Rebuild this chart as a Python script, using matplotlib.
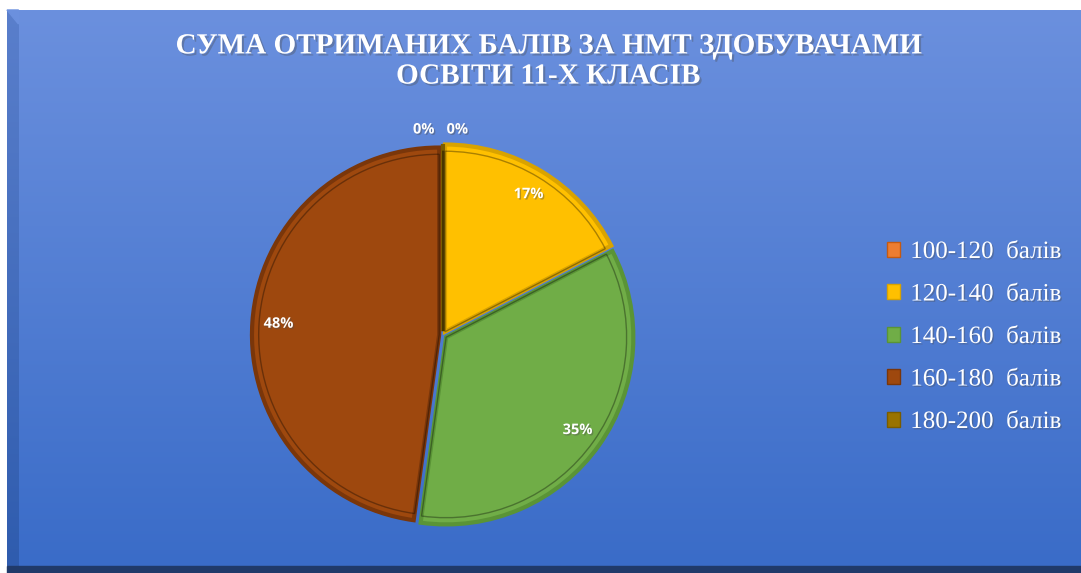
import numpy as np
import matplotlib
matplotlib.use("Agg")
import matplotlib.pyplot as plt
import matplotlib.patheffects as pe
from matplotlib.patches import Polygon, Patch
from matplotlib.colors import LinearSegmentedColormap

# дані
categories = ["100-120  балів", "120-140  балів", "140-160  балів", "160-180  балів", "180-200  балів"]
counts = [0, 4, 8, 11, 0]
colors = ["#ED7D31", "#FFC000", "#70AD47", "#9E480E", "#997300"]
edge_colors = ["#C55A11", "#D9A300", "#5A9436", "#7A360A", "#7A5C00"]
title = "СУМА ОТРИМАНИХ БАЛІВ ЗА НМТ ЗДОБУВАЧАМИ\nОСВІТИ 11-Х КЛАСІВ"

W, H = 1081, 573
fig = plt.figure(figsize=(W / 100, H / 100), dpi=100)
fig.patch.set_facecolor("white")

# фон з градієнтом та рамкою
bg = fig.add_axes([0, 0, 1, 1])
bg.set_xlim(0, W)
bg.set_ylim(H, 0)
bg.axis("off")
grad = LinearSegmentedColormap.from_list("g", ["#6b90de", "#3a6cc8"])
bg.imshow(np.linspace(0, 1, 256).reshape(-1, 1), cmap=grad, aspect="auto",
          extent=[18, W, 566, 10], zorder=0, interpolation="bilinear")
side = LinearSegmentedColormap.from_list("s", ["#5a7fcc", "#2f5cae"])
bg.imshow(np.linspace(0, 1, 256).reshape(-1, 1), cmap=side, aspect="auto",
          extent=[7, 18.5, 566, 10], zorder=0, interpolation="bilinear")
bg.add_patch(Polygon([[7, 10], [18.5, 24], [18.5, 10]], closed=True, color="#6b90de", zorder=1))
bg.add_patch(Polygon([[7, 566], [W, 566], [W, H], [7, H]], closed=True, color="#203a6a", zorder=1))

fig.text(548 / W, 1 - 61 / H, title, ha="center", va="center", color="white",
         fontsize=21, fontweight="bold", family="Liberation Serif", linespacing=1.15,
         path_effects=[pe.withSimplePatchShadow(offset=(1.5, -1.5), alpha=0.35)])

# кругова діаграма
r = 192
cx, cy = 443, 335
ax = fig.add_axes([(cx - r) / W, (H - cy - r) / H, 2 * r / W, 2 * r / H])

explode = [0.02] * len(counts)
wedges, texts, autotexts = ax.pie(
    counts, colors=colors, startangle=90, counterclock=False, explode=explode,
    radius=0.975, autopct="%.0f%%", pctdistance=0.86,
    wedgeprops=dict(linewidth=0),
    textprops=dict(color="white", fontsize=10.5, fontweight="bold", family="Open Sans"))
for w, ec in zip(wedges, edge_colors):
    w.set_edgecolor(ec)
    w.set_linewidth(3)

# внутрішній контур
inner, _ = ax.pie(counts, colors=["none"] * len(counts), startangle=90, counterclock=False,
                  explode=explode, radius=0.94,
                  wedgeprops=dict(linewidth=1.0, fill=False))
for w in inner:
    w.set_edgecolor("#00000055")

ax.set_xlim(-1, 1)
ax.set_ylim(-1, 1)
ax.axis("off")

for t in autotexts:
    t.set_path_effects([pe.withSimplePatchShadow(offset=(1, -1), alpha=0.4)])
# нульові частки над діаграмою
autotexts[0].set_position((0.075, 1.07))
autotexts[-1].set_position((-0.1, 1.07))

handles = [Patch(facecolor=c, edgecolor=e, linewidth=1) for c, e in zip(colors, edge_colors)]
leg = fig.legend(handles, categories, loc="center left",
                 bbox_to_anchor=(864 / W, 1 - 337 / H), frameon=False,
                 prop=dict(family="Liberation Serif", size=18),
                 handlelength=0.55, handleheight=0.55, handletextpad=0.4,
                 labelspacing=0.82)
for t in leg.get_texts():
    t.set_color("white")
    t.set_path_effects([pe.withSimplePatchShadow(offset=(1, -1), alpha=0.35)])

fig.savefig("out.png", dpi=100)
